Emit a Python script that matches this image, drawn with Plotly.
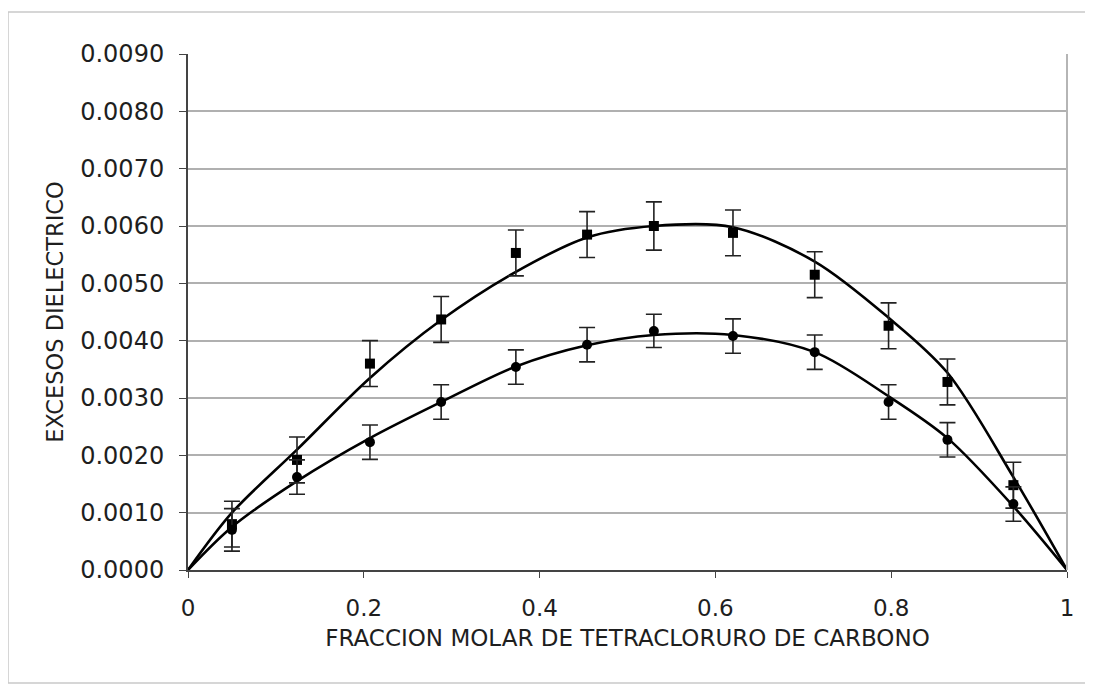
import plotly.graph_objects as go

# Data
x_points = [0.05, 0.124, 0.207, 0.288, 0.373, 0.454, 0.530, 0.620, 0.713, 0.797, 0.864, 0.939]
upper_vals = [0.0008, 0.00192, 0.0036, 0.00437, 0.00553, 0.00585, 0.0060, 0.00588, 0.00515, 0.00426, 0.00328, 0.00148]
upper_err = [0.0004, 0.0004, 0.0004, 0.0004, 0.0004, 0.0004, 0.00042, 0.0004, 0.0004, 0.0004, 0.0004, 0.0004]
lower_vals = [0.0007, 0.00162, 0.00223, 0.00293, 0.00354, 0.00393, 0.00417, 0.00408, 0.0038, 0.00293, 0.00227, 0.00115]
lower_err = [0.00037, 0.0003, 0.0003, 0.0003, 0.0003, 0.0003, 0.00029, 0.0003, 0.0003, 0.0003, 0.0003, 0.0003]

x_curve = [0.0, 0.05, 0.124, 0.207, 0.288, 0.373, 0.454, 0.530, 0.620, 0.713, 0.797, 0.864, 0.939, 1.0]
upper_curve = [0.0, 0.001, 0.0021, 0.00335, 0.00436, 0.0052, 0.0058, 0.0060, 0.00598, 0.00538, 0.0044, 0.00344, 0.00162, 0.0]
lower_curve = [0.0, 0.00075, 0.00155, 0.0023, 0.00293, 0.00355, 0.00392, 0.0041, 0.0041, 0.0038, 0.00303, 0.0023, 0.00111, 0.0]

x_tickvals = [0, 0.2, 0.4, 0.6, 0.8, 1]
x_ticktext = ["0", "0.2", "0.4", "0.6", "0.8", "1"]
y_tickvals = [0.0, 0.001, 0.002, 0.003, 0.004, 0.005, 0.006, 0.007, 0.008, 0.009]

x_title = "FRACCION MOLAR DE TETRACLORURO DE CARBONO"
y_title = "EXCESOS DIELECTRICO"

FONT = "DejaVu Sans"
TXT = "#1e1e1e"

# page body adds an 8px offset; compensate in figure size / margins
L, T, PW, PH = 180, 46, 879, 516
W, H = 1085, 687

fig = go.Figure()

fig.add_trace(go.Scatter(x=x_curve, y=upper_curve, mode="lines",
                         line=dict(color="black", width=2.6, shape="spline", smoothing=0.9),
                         showlegend=False, hoverinfo="skip"))
fig.add_trace(go.Scatter(x=x_curve, y=lower_curve, mode="lines",
                         line=dict(color="black", width=2.6, shape="spline", smoothing=0.9),
                         showlegend=False, hoverinfo="skip"))

fig.add_trace(go.Scatter(x=x_points, y=upper_vals, mode="markers",
                         marker=dict(symbol="square", size=10, color="black"),
                         error_y=dict(type="data", array=upper_err, visible=True,
                                      color="#222222", thickness=1.6, width=8),
                         showlegend=False))
fig.add_trace(go.Scatter(x=x_points, y=lower_vals, mode="markers",
                         marker=dict(symbol="circle", size=10, color="black"),
                         error_y=dict(type="data", array=lower_err, visible=True,
                                      color="#222222", thickness=1.6, width=8),
                         showlegend=False))

# plot-area right border and outer chart frame (left/top/bottom edges, paper coordinates)
fig.add_shape(type="line", xref="paper", yref="paper", x0=1, x1=1, y0=0, y1=1,
              line=dict(color="#b5b5b5", width=2))
fx0 = (0 - L) / PW
fx1 = (W - L) / PW
fy0 = (T + PH - 675) / PH
fy1 = (T + PH - 4) / PH
frame_style = dict(color="#c8c8c8", width=1.5)
fig.add_shape(type="line", xref="paper", yref="paper", x0=fx0, x1=fx0, y0=fy0, y1=fy1, line=frame_style)
fig.add_shape(type="line", xref="paper", yref="paper", x0=fx0, x1=fx1, y0=fy1, y1=fy1, line=frame_style)
fig.add_shape(type="line", xref="paper", yref="paper", x0=fx0, x1=fx1, y0=fy0, y1=fy0, line=frame_style)

fig.update_layout(
    width=W, height=H,
    margin=dict(l=L, r=W - L - PW, t=T, b=H - T - PH),
    paper_bgcolor="white", plot_bgcolor="white",
    font=dict(family=FONT, color=TXT),
)

fig.update_xaxes(
    range=[0, 1], tickvals=x_tickvals, ticktext=x_ticktext,
    tickfont=dict(size=23, family=FONT, color=TXT),
    showgrid=False, zeroline=False,
    showline=True, linecolor="#444444", linewidth=2,
    ticks="outside", ticklen=6, tickcolor="#444444",
    ticklabelstandoff=10,
    title=dict(text=x_title, font=dict(size=23, family=FONT, color=TXT), standoff=10),
)
fig.update_yaxes(
    range=[0, 0.009], tickvals=y_tickvals, tickformat=".4f",
    tickfont=dict(size=24, family=FONT, color=TXT),
    showgrid=True, gridcolor="#b0b0b0", gridwidth=1.5,
    zeroline=False,
    showline=True, linecolor="#444444", linewidth=2,
    ticks="outside", ticklen=7, tickcolor="#444444",
    ticklabelstandoff=10,
    title=dict(text=y_title, font=dict(size=22.5, family=FONT, color=TXT), standoff=10),
)

fig.write_html("out.html")
